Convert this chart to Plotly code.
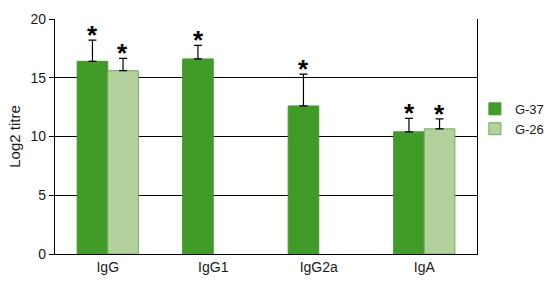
import plotly.graph_objects as go

categories = ["IgG", "IgG1", "IgG2a", "IgA"]
g37 = [16.4, 16.6, 12.6, 10.4]
g37_err = [1.8, 1.15, 2.7, 1.15]
g26 = [15.6, None, None, 10.65]
g26_err = [1.05, None, None, 0.85]
y_ticks = [0, 5, 10, 15, 20]

DARK = "#419b28"
LIGHT = "#b3d19c"
FONT = "Liberation Sans, Arial, sans-serif"

fig = go.Figure()
fig.add_trace(go.Bar(
    x=categories, y=g37, name="G-37",
    marker=dict(color=DARK, line=dict(color=DARK, width=1)),
    error_y=dict(type="data", array=g37_err, symmetric=False, arrayminus=[0] * 4,
                 color="black", thickness=1.2, width=4),
))
fig.add_trace(go.Bar(
    x=categories, y=g26, name="G-26",
    marker=dict(color=LIGHT, line=dict(color="#6fae55", width=1)),
    error_y=dict(type="data", array=g26_err, symmetric=False, arrayminus=[0] * 4,
                 color="black", thickness=1.2, width=4),
))

# significance asterisks above error bars
for cat, v, e in zip(categories, g37, g37_err):
    fig.add_annotation(x=cat, y=v + e, text="<b>*</b>", showarrow=False,
                       xshift=-15, yshift=-12, yanchor="bottom",
                       font=dict(size=26, color="black", family=FONT))
for cat, v, e in zip(categories, g26, g26_err):
    if v is None:
        continue
    fig.add_annotation(x=cat, y=v + e, text="<b>*</b>", showarrow=False,
                       xshift=15, yshift=-12, yanchor="bottom",
                       font=dict(size=26, color="black", family=FONT))

fig.update_layout(
    width=550, height=287,
    margin=dict(l=55, r=73, t=19, b=33, autoexpand=False),
    barmode="group", bargap=0.42, bargroupgap=0,
    plot_bgcolor="white", paper_bgcolor="white",
    font=dict(family=FONT, size=14, color="#1a1a1a"),
    showlegend=True,
    legend=dict(x=0.995, y=0.575, xanchor="left", yanchor="middle",
                bgcolor="rgba(0,0,0,0)",
                font=dict(size=13, color="#1a1a1a"), itemwidth=30,
                tracegroupgap=4),
    xaxis=dict(showline=True, linecolor="black", linewidth=1.2, ticks="",
               showgrid=False, tickfont=dict(size=14), mirror=False),
    yaxis=dict(range=[0, 20], tickvals=y_ticks, showline=True, linecolor="black",
               linewidth=1.2, ticks="outside", ticklen=5, tickcolor="black",
               showgrid=True, gridcolor="black", gridwidth=1,
               tickfont=dict(size=14),
               title=dict(text="Log2 titre", font=dict(size=15), standoff=6),
               zeroline=False, mirror=True),
)

# the page body has a default 8px margin; drop it so the figure sits at 0,0
fig.write_html("out.html", config={"displayModeBar": False},
               post_script="document.body.style.margin='0';")
